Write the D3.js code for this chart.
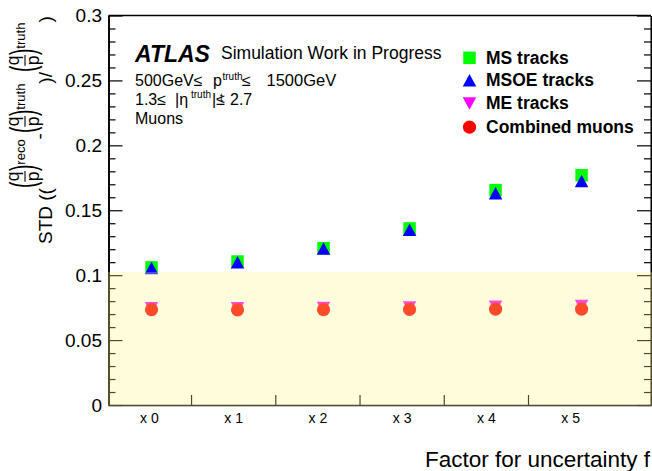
<!DOCTYPE html>
<html><head><meta charset="utf-8">
<script src="https://cdn.jsdelivr.net/npm/d3@7"></script>
<style>
body{margin:0;background:#fff}
text{font-family:"Liberation Sans",Arial,sans-serif;fill:#000}
</style>
</head><body>
<svg id="c" width="652" height="471"></svg>
<script>
// ---- data ----
const categories = ["x 0","x 1","x 2","x 3","x 4","x 5"];
const factors = [0,1,2,3,4,5];
const msTracks      = [0.1060, 0.1105, 0.1208, 0.1360, 0.1655, 0.1770];
const msoeTracks    = [0.1055, 0.1100, 0.1205, 0.1350, 0.1630, 0.1725];
const meTracks      = [0.0746, 0.0746, 0.0747, 0.0751, 0.0756, 0.0763];
const combinedMuons = [0.0735, 0.0733, 0.0734, 0.0736, 0.0738, 0.0739];
const yTickValues = [0, 0.05, 0.1, 0.15, 0.2, 0.25, 0.3];
const yTickLabels = ["0","0.05","0.1","0.15","0.2","0.25","0.3"];
const binEdges = [0.5, 1.5, 2.5, 3.5, 4.5];
const bandRange = [0, 0.1025];
const legendNames = ["MS tracks","MSOE tracks","ME tracks","Combined muons"];

// ---- layout ----
const L = 108.5, R = 651, T = 15.5, B = 405;
const FONT = '"Liberation Sans",Arial,sans-serif';
const svg = d3.select("#c");
const y = d3.scaleLinear().domain([0, 0.3]).range([B, T]);
const xLab = d3.scaleLinear().domain([-0.48, 5.96]).range([L, R]);
const xPt = d3.scaleLinear().domain([-0.5, 5.807]).range([L, R]);

const minorY = d3.range(0, 0.3001, 0.01).map(v => +v.toFixed(3)).filter(v => Math.abs(v*20 - Math.round(v*20)) > 1e-6);

function styleAxis(g){
  g.select(".domain").attr("stroke","#000").attr("stroke-width",1.6);
  g.selectAll(".tick line").attr("stroke","#000").attr("stroke-width",1.2);
}

// left axis
const gl = svg.append("g").attr("transform",`translate(${L},0)`)
  .call(d3.axisLeft(y).tickValues(yTickValues).tickSize(-14).tickSizeOuter(0).tickPadding(6.5)
    .tickFormat((d,i)=>yTickLabels[i]));
styleAxis(gl);
gl.selectAll(".tick text").attr("font-size",19).attr("font-family",FONT);
svg.append("g").attr("transform",`translate(${L},0)`)
  .call(d3.axisLeft(y).tickValues(minorY).tickSize(-7).tickSizeOuter(0).tickFormat(""))
  .call(styleAxis);

// right axis
svg.append("g").attr("transform",`translate(${R},0)`)
  .call(d3.axisRight(y).tickValues(yTickValues).tickSize(-14).tickSizeOuter(0).tickFormat(""))
  .call(styleAxis);
svg.append("g").attr("transform",`translate(${R},0)`)
  .call(d3.axisRight(y).tickValues(minorY).tickSize(-7).tickSizeOuter(0).tickFormat(""))
  .call(styleAxis);

// bottom axis
svg.append("g").attr("transform",`translate(0,${B})`)
  .call(d3.axisBottom(xLab).tickValues(binEdges).tickSize(-10).tickSizeOuter(0).tickFormat(""))
  .call(styleAxis);
const gb = svg.append("g").attr("transform",`translate(0,${B})`)
  .call(d3.axisBottom(xLab).tickValues(factors).tickSize(0).tickPadding(8).tickFormat(i=>categories[i]));
gb.select(".domain").remove();
gb.selectAll(".tick text").attr("font-size",14).attr("font-family",FONT);

// top frame line
svg.append("line").attr("x1",L).attr("x2",R).attr("y1",T).attr("y2",T).attr("stroke","#000").attr("stroke-width",1.6);

// ---- markers ----
const sq = d3.symbol().type(d3.symbolSquare).size(12.5*12.5);
function triPath(up, w, h){
  const s = up ? 1 : -1;
  return `M0,${-s*h/2}L${w/2},${s*h/2}L${-w/2},${s*h/2}Z`;
}
const series = [
  {vals: msTracks, color:"#00ff00", kind:"sq"},
  {vals: msoeTracks, color:"#0000ff", kind:"up"},
  {vals: meTracks, color:"#ff00ff", kind:"down"},
  {vals: combinedMuons, color:"#ff0000", kind:"circ"}
];
function drawMarker(g, kind, color){
  if(kind==="sq") g.append("path").attr("d", sq()).attr("fill",color);
  else if(kind==="up") g.append("path").attr("d", triPath(true,13.5,12.5)).attr("fill",color);
  else if(kind==="down") g.append("path").attr("d", triPath(false,13.5,12.5)).attr("fill",color);
  else g.append("circle").attr("r",6.6).attr("fill",color);
}
series.forEach(s=>{
  s.vals.forEach((v,i)=>{
    const g = svg.append("g").attr("transform",`translate(${xPt(factors[i])},${y(v)})`);
    drawMarker(g, s.kind, s.color);
  });
});

// ---- yellow band (semi-transparent, on top) ----
svg.append("rect").attr("x",L-1).attr("width",R-L+2)
  .attr("y",y(bandRange[1])).attr("height",y(bandRange[0])-y(bandRange[1])+1.5)
  .attr("fill","rgb(255,250,138)").attr("fill-opacity",0.3);

// ---- legend ----
const legRows = [57.8, 80.2, 103.4, 127.2];
series.forEach((s,i)=>{
  const g = svg.append("g").attr("transform",`translate(469.5,${legRows[i]})`);
  drawMarker(g, s.kind, s.color);
  svg.append("text").attr("x",486).attr("y",legRows[i]+6).attr("font-size",17.5).attr("font-weight","bold").text(legendNames[i]);
});

// ---- ATLAS label ----
svg.append("text").attr("x",135).attr("y",61.5).attr("font-size",23).attr("font-weight","bold").attr("font-style","italic").text("ATLAS");
svg.append("text").attr("x",221).attr("y",59).attr("font-size",17.5).text("Simulation Work in Progress");
// line 1
svg.append("text").attr("x",135).attr("y",86).attr("font-size",16).text("500GeV\u2264");
svg.append("text").attr("x",213).attr("y",86).attr("font-size",16).text("p");
svg.append("text").attr("x",222.5).attr("y",79.5).attr("font-size",10).text("truth");
svg.append("text").attr("x",220).attr("y",100.5).attr("font-size",10).text("t");
svg.append("text").attr("x",242).attr("y",86).attr("font-size",16).text("\u2264");
svg.append("text").attr("x",266.5).attr("y",86).attr("font-size",16.5).text("1500GeV");
// line 2
svg.append("text").attr("x",135).attr("y",104.5).attr("font-size",16).text("1.3\u2264");
svg.append("text").attr("x",175).attr("y",104.5).attr("font-size",16).text("|\u03b7");
svg.append("text").attr("x",191).attr("y",98).attr("font-size",10).text("truth");
svg.append("text").attr("x",212).attr("y",104.5).attr("font-size",16).text("|\u2264");
svg.append("text").attr("x",230).attr("y",104.5).attr("font-size",16).text("2.7");
// line 3
svg.append("text").attr("x",135).attr("y",123.5).attr("font-size",16).text("Muons");

// ---- x title ----
svg.append("text").attr("x",650).attr("y",467).attr("text-anchor","end").attr("font-size",22.5).text("Factor for uncertainty f");

// ---- y title (rotated, built piecewise) ----
const tg = svg.append("g").attr("transform","translate(52,244) rotate(-90)");
let cx = 0;
const MAIN = 19, FR = 17.5, SUP = 13;
function addText(str, size, yy){
  const t = tg.append("text").attr("x",cx).attr("y",yy||0).attr("font-size",size).text(str);
  cx += t.node().getComputedTextLength();
}
function addParen(ch){
  const t = tg.append("text").attr("transform",`translate(${cx},-26) scale(1,1.8)`)
    .attr("y",0.258*MAIN).attr("font-size",MAIN).text(ch);
  cx += t.node().getComputedTextLength();
}
function addFrac(){
  const q = tg.append("text").attr("x",cx+0.5).attr("y",-33.5).attr("font-size",FR).text("q");
  const p = tg.append("text").attr("x",cx+0.5).attr("y",-13).attr("font-size",FR).text("p");
  const w = Math.max(q.node().getComputedTextLength(), p.node().getComputedTextLength()) + 1;
  tg.append("line").attr("x1",cx).attr("x2",cx+w).attr("y1",-27).attr("y2",-27).attr("stroke","#000").attr("stroke-width",1.1);
  cx += w;
}
function addSup(str){ addText(str, SUP, -27.5); }
addText("STD ((", MAIN);
addParen("("); addFrac(); addParen(")"); addSup("reco");
addText(" - ", MAIN, -6);
addParen("("); addFrac(); addParen(")"); addSup("truth");
addText(")/", MAIN);
addParen("("); addFrac(); addParen(")"); addSup("truth");
addText(")", MAIN);
</script>
</body></html>
